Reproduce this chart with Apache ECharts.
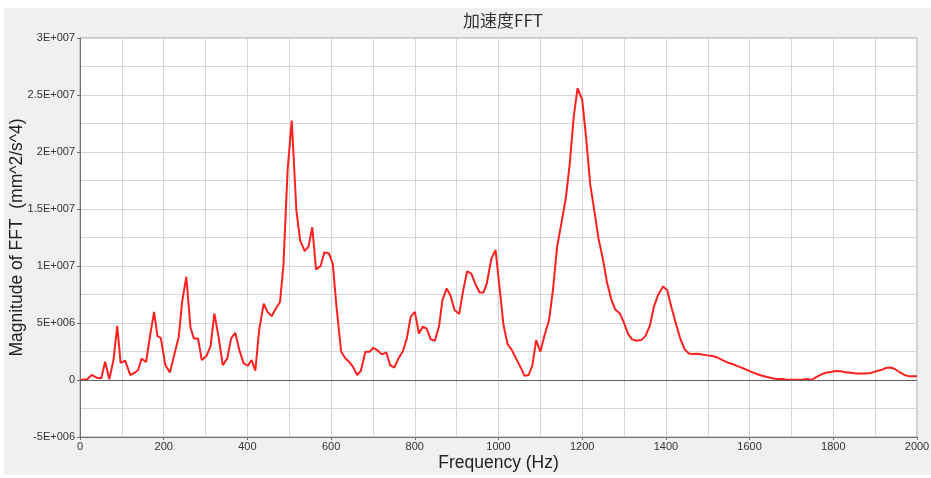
<!DOCTYPE html>
<html>
<head>
<meta charset="utf-8">
<style>
  html, body { margin: 0; padding: 0; background: #ffffff; }
  #chart { width: 931px; height: 478px; }
</style>
<script src="https://cdn.jsdelivr.net/npm/echarts@6/dist/echarts.min.js"></script>
</head>
<body>
<div id="chart"></div>
<script>
// Spectrum samples: frequency (Hz) and FFT magnitude (mm^2/s^4)
const freqHz = [
  0, 17, 28, 40, 51, 60, 70, 80, 89, 97, 108, 120, 131, 139, 147, 158, 167, 177, 185, 193,
  204, 215, 226, 236, 244, 254, 264, 272, 282, 291, 302, 312, 321, 331, 341, 352, 361, 371, 381, 391,
  401, 410, 419, 428, 439, 448, 458, 468, 478, 486, 496, 506, 517, 526, 537, 546, 555, 564, 575, 584,
  595, 604, 613, 624, 634, 644, 652, 662, 671, 682, 692, 701, 712, 721, 732, 741, 751, 761, 771, 781,
  790, 800, 810, 819, 828, 838, 848, 858, 866, 876, 885, 895, 906, 915, 925, 935, 945, 955, 964, 972,
  983, 993, 1004, 1012, 1022, 1032, 1041, 1052, 1062, 1072, 1081, 1090, 1100, 1110, 1121, 1130, 1140, 1150, 1161, 1170,
  1180, 1189, 1200, 1210, 1219, 1230, 1239, 1250, 1259, 1270, 1279, 1290, 1299, 1310, 1319, 1330, 1341, 1351, 1362, 1371,
  1381, 1393, 1403, 1413, 1425, 1435, 1445, 1455, 1464, 1475, 1487, 1499, 1511, 1523, 1535, 1547, 1559, 1571, 1583, 1595,
  1607, 1619, 1630, 1642, 1654, 1666, 1678, 1690, 1702, 1714, 1726, 1738, 1748, 1758, 1770, 1782, 1794, 1806, 1818, 1830,
  1842, 1854, 1866, 1878, 1890, 1902, 1914, 1926, 1936, 1946, 1958, 1970, 1982, 2000
];
const magnitude = [
  0, 0.06e6, 0.44e6, 0.2e6, 0.15e6, 1.6e6, 0.06e6, 1.75e6, 4.75e6, 1.5e6, 1.7e6, 0.44e6, 0.64e6, 0.87e6, 1.87e6, 1.58e6, 3.8e6, 5.98e6, 3.85e6, 3.7e6,
  1.3e6, 0.67e6, 2.33e6, 3.8e6, 6.85e6, 9.04e6, 4.6e6, 3.65e6, 3.65e6, 1.75e6, 2.1e6, 2.98e6, 5.83e6, 3.8e6, 1.3e6, 1.9e6, 3.65e6, 4.14e6, 2.6e6, 1.46e6,
  1.25e6, 1.75e6, 0.82e6, 4.38e6, 6.7e6, 5.98e6, 5.6e6, 6.27e6, 6.85e6, 1.0e7, 1.84e7, 2.275e7, 1.49e7, 1.225e7, 1.13e7, 1.17e7, 1.34e7, 9.7e6, 1.0e7, 1.12e7,
  1.11e7, 1.02e7, 6.4e6, 2.48e6, 1.9e6, 1.55e6, 1.17e6, 0.44e6, 0.79e6, 2.48e6, 2.48e6, 2.83e6, 2.57e6, 2.25e6, 2.42e6, 1.3e6, 1.08e6, 1.9e6, 2.48e6, 3.65e6,
  5.54e6, 5.98e6, 4.08e6, 4.67e6, 4.52e6, 3.56e6, 3.44e6, 4.73e6, 7.0e6, 8.02e6, 7.44e6, 6.13e6, 5.78e6, 7.73e6, 9.54e6, 9.33e6, 8.4e6, 7.67e6, 7.67e6, 8.46e6,
  1.065e7, 1.14e7, 7.6e6, 4.8e6, 3.12e6, 2.62e6, 1.95e6, 1.17e6, 0.38e6, 0.44e6, 1.31e6, 3.5e6, 2.48e6, 3.93e6, 5.3e6, 7.87e6, 1.166e7, 1.37e7, 1.6e7, 1.89e7,
  2.32e7, 2.56e7, 2.46e7, 2.1e7, 1.72e7, 1.46e7, 1.24e7, 1.05e7, 8.6e6, 7.0e6, 6.18e6, 5.83e6, 5.1e6, 4.02e6, 3.56e6, 3.44e6, 3.5e6, 3.85e6, 4.8e6, 6.4e6,
  7.43e6, 8.2e6, 7.9e6, 6.4e6, 4.8e6, 3.56e6, 2.68e6, 2.33e6, 2.27e6, 2.3e6, 2.24e6, 2.16e6, 2.1e6, 1.98e6, 1.75e6, 1.54e6, 1.4e6, 1.22e6, 1.05e6, 0.87e6,
  0.67e6, 0.5e6, 0.38e6, 0.26e6, 0.15e6, 0.09e6, 0.09e6, 0.03e6, 0.03e6, 0.03e6, 0.03e6, 0.09e6, 0, 0.23e6, 0.47e6, 0.64e6, 0.7e6, 0.79e6, 0.76e6, 0.67e6,
  0.64e6, 0.58e6, 0.58e6, 0.58e6, 0.61e6, 0.76e6, 0.87e6, 1.05e6, 1.1e6, 0.99e6, 0.7e6, 0.44e6, 0.32e6, 0.32e6
];

// Tick label text for the magnitude axis
const yTickText = {
  '30000000': '3E+007', '25000000': '2.5E+007', '20000000': '2E+007', '15000000': '1.5E+007',
  '10000000': '1E+007', '5000000': '5E+006', '0': '0', '-5000000': '-5E+006'
};

const chartTitle = '加速度FFT';
const xName = 'Frequency (Hz)';
const yName = 'Magnitude of FFT  (mm^2/s^4)';

const points = freqHz.map((f, i) => [f, magnitude[i]]);

const gridColor = '#d6d6d6';
const labelFont = '"Liberation Sans Narrow", "Liberation Sans", Arial, sans-serif';
const nameFont = '"Liberation Sans", Arial, sans-serif';

const chart = echarts.init(document.getElementById('chart'), null, { renderer: 'canvas' });
chart.setOption({
  backgroundColor: '#ffffff',
  animation: false,
  graphic: [{
    type: 'rect',
    z: -10,
    shape: { x: 4, y: 8, width: 927, height: 467 },
    style: { fill: '#f0f0f0' },
    silent: true
  }],
  title: {
    text: chartTitle,
    left: 498,
    textAlign: 'center',
    top: 7,
    textStyle: { fontFamily: '"Noto Sans CJK SC", sans-serif', fontSize: 17, fontWeight: 'normal', color: '#333' }
  },
  grid: {
    left: 80, right: 14, top: 38, bottom: 41,
    outerBoundsMode: 'none',
    containLabel: false,
    show: true,
    backgroundColor: '#ffffff',
    borderColor: '#a0a0a0',
    borderWidth: 1
  },
  xAxis: {
    type: 'value',
    min: 0, max: 2000, interval: 200,
    name: xName,
    nameLocation: 'middle',
    nameGap: 17,
    nameMoveOverlap: false,
    nameTextStyle: { fontFamily: nameFont, fontSize: 17.5, color: '#222' },
    axisLine: { onZero: false, lineStyle: { color: '#707070', width: 1 } },
    axisTick: { show: true, length: 3, lineStyle: { color: '#707070' } },
    axisLabel: { fontFamily: labelFont, fontSize: 11, color: '#333', margin: 4, formatter: v => String(v) },
    splitLine: { show: true, lineStyle: { color: gridColor, width: 1 } },
    minorTick: { show: false, splitNumber: 2 },
    minorSplitLine: { show: true, lineStyle: { color: gridColor, width: 1 } }
  },
  yAxis: {
    type: 'value',
    min: -5000000, max: 30000000, interval: 5000000,
    name: yName,
    nameLocation: 'middle',
    nameGap: 54,
    nameMoveOverlap: false,
    nameTextStyle: { fontFamily: nameFont, fontSize: 17.5, color: '#222' },
    axisLine: { lineStyle: { color: '#707070', width: 1 } },
    axisTick: { show: true, length: 3, lineStyle: { color: '#707070' } },
    axisLabel: {
      fontFamily: labelFont, fontSize: 11, color: '#333', margin: 5,
      formatter: v => yTickText[String(v)] ?? String(v)
    },
    splitLine: { show: true, lineStyle: { color: gridColor, width: 1 } },
    minorTick: { show: false, splitNumber: 2 },
    minorSplitLine: { show: true, lineStyle: { color: gridColor, width: 1 } }
  },
  series: [{
    type: 'line',
    data: points,
    showSymbol: false,
    smooth: false,
    lineStyle: { color: '#ff2020', width: 2 },
    markLine: {
      silent: true,
      symbol: 'none',
      label: { show: false },
      lineStyle: { color: '#606060', width: 1, type: 'solid' },
      data: [{ yAxis: 0 }]
    },
    z: 3
  }]
});
</script>
</body>
</html>
